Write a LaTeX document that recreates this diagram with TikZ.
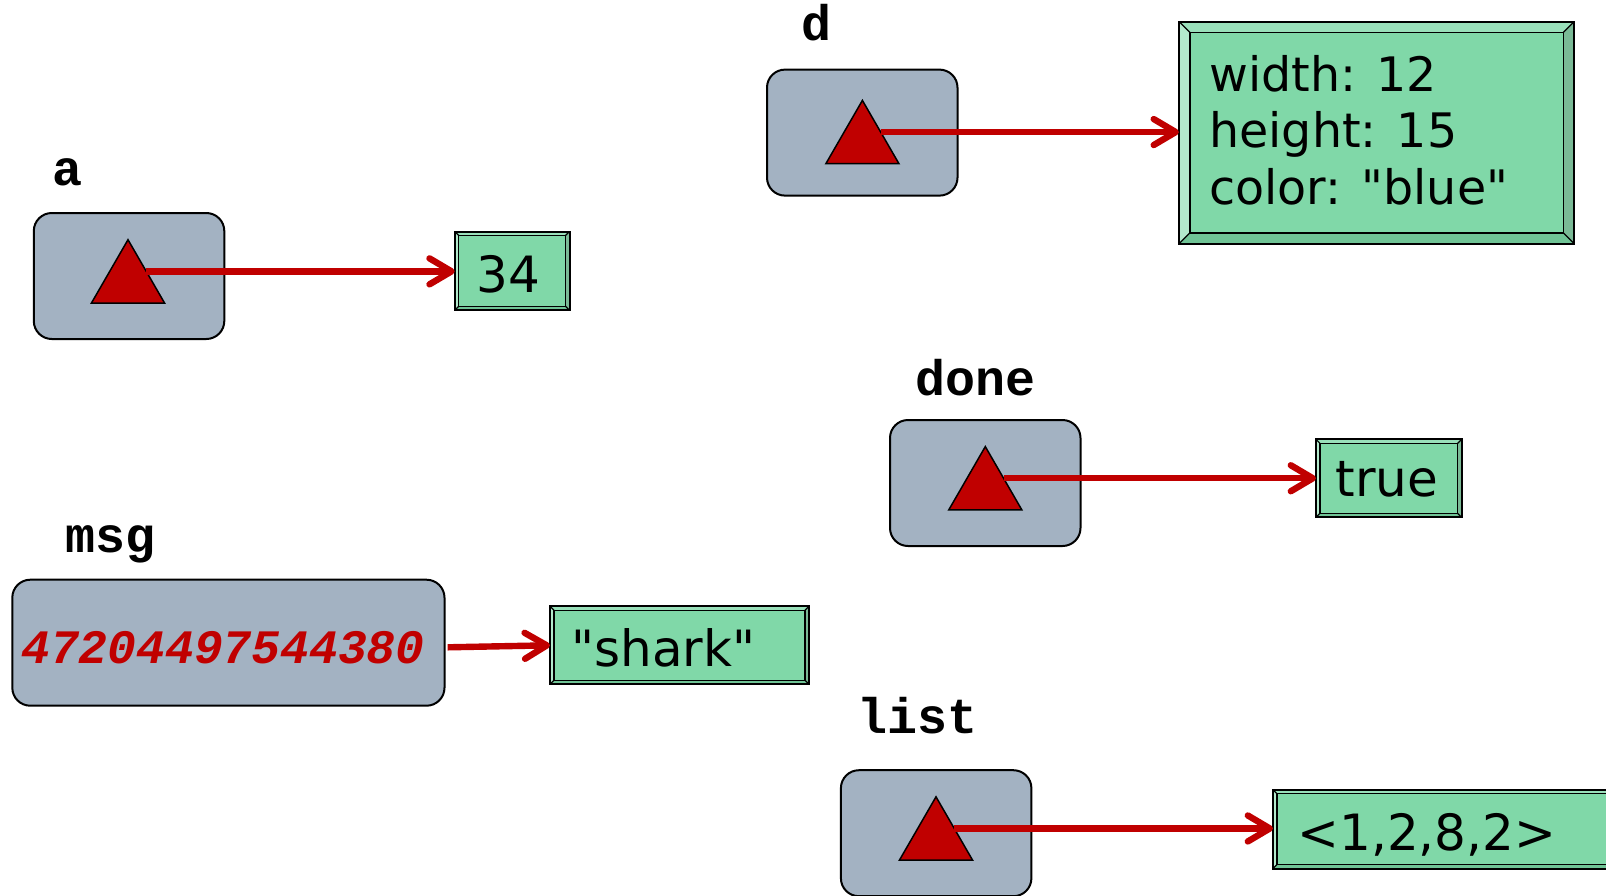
\documentclass[tikz,border=0pt]{standalone}
\usepackage{fontspec}
\usetikzlibrary{shapes.geometric,arrows.meta}
\newfontfamily\valfont{DejaVu Sans}
\newfontfamily\codefont{Liberation Mono}

\definecolor{refgrey}{RGB}{163,178,194}
\definecolor{ptrred}{RGB}{192,0,0}
\definecolor{valgreen}{RGB}{128,216,168}
\definecolor{bevtop}{RGB}{153,224,186}
\definecolor{bevleft}{RGB}{179,233,204}
\definecolor{bevright}{RGB}{122,186,150}
\definecolor{bevbottom}{RGB}{112,196,150}

% bevelled frame around a value node: #1 = node name, #2 = bevel depth in pt
\newcommand\bevelframe[2]{%
  \fill[bevtop] (#1.north west) -- (#1.north east) -- ([shift={(-#2pt,-#2pt)}]#1.north east) -- ([shift={(#2pt,-#2pt)}]#1.north west) -- cycle;
  \fill[bevleft] (#1.north west) -- ([shift={(#2pt,-#2pt)}]#1.north west) -- ([shift={(#2pt,#2pt)}]#1.south west) -- (#1.south west) -- cycle;
  \fill[bevright] (#1.north east) -- (#1.south east) -- ([shift={(-#2pt,#2pt)}]#1.south east) -- ([shift={(-#2pt,-#2pt)}]#1.north east) -- cycle;
  \fill[bevbottom] (#1.south west) -- ([shift={(#2pt,#2pt)}]#1.south west) -- ([shift={(-#2pt,#2pt)}]#1.south east) -- (#1.south east) -- cycle;
  \draw[line width=0.6pt] (#1.north west) -- ([shift={(#2pt,-#2pt)}]#1.north west)
    (#1.north east) -- ([shift={(-#2pt,-#2pt)}]#1.north east)
    (#1.south west) -- ([shift={(#2pt,#2pt)}]#1.south west)
    (#1.south east) -- ([shift={(-#2pt,#2pt)}]#1.south east);
  \draw[line width=0.7pt] ([shift={(#2pt,-#2pt)}]#1.north west) rectangle ([shift={(-#2pt,#2pt)}]#1.south east);
  \draw[line width=1pt] (#1.north west) rectangle (#1.south east);
}

\tikzset{
  refbox/.style={fill=refgrey, draw=black, line width=1pt, rounded corners=9pt,
    minimum width=95.25pt, minimum height=63pt, inner sep=0pt, outer sep=0pt, anchor=north west},
  ptr/.style={regular polygon, regular polygon sides=3, draw=black, line width=0.75pt,
    fill=ptrred, minimum size=42.2pt, inner sep=0pt, outer sep=0pt},
  link/.style={draw=ptrred, line width=3.2pt,
    -{Straight Barb[length=11pt,width=13pt,line cap=round,line join=round]}},
  vname/.style={font=\codefont\bfseries\fontsize{25pt}{30pt}\selectfont, anchor=base, inner sep=0pt},
  valbox/.style={fill=valgreen, inner sep=0pt, outer sep=0pt, anchor=north west},
  valtext/.style={font=\valfont\fontsize{25pt}{30pt}\selectfont, inner sep=0pt},
  dimtext/.style={font=\valfont\fontsize{23.75pt}{28.5pt}\selectfont, inner sep=0pt, anchor=base west},
}

\begin{document}
\begin{tikzpicture}[x=0.5pt, y=-0.5pt]
\useasboundingbox (0,0) rectangle (1606,895);
\clip (0,0) rectangle (1606,895);

% variable names
\node[vname] (na)    at (67.5,185)   {a};
\node[vname] (nd)    at (816,40)     {d};
\node[vname] (ndone) at (975,395)    {done};
\node[vname] (nmsg)  at (111,552.7)  {msg};
\node[vname] (nlist) at (917.5,733.3) {list};

% reference cells
\node[refbox] (ra)    at (33.8,213)   {};
\node[refbox] (rd)    at (767,69.6)   {};
\node[refbox] (rdone) at (890,420)    {};
\node[refbox] (rlist) at (840.9,770.2) {};
\node[refbox, minimum width=216.1pt] (rmsg) at (12.3,579.7) {};

% pointer markers
\node[ptr] (ta)    at (128,281.9)   {};
\node[ptr] (td)    at (862.4,142.6) {};
\node[ptr] (tdone) at (985.3,488.8) {};
\node[ptr] (tlist) at (936,839)     {};

% raw reference value stored in msg
\node[font=\codefont\bfseries\itshape\fontsize{24pt}{28pt}\selectfont, text=ptrred,
      anchor=base, inner sep=0pt] (msgval) at (223,663.7) {47204497544380};

% value objects
\node[valbox, minimum width=57.4pt,   minimum height=39.4pt]  (v34)    at (454.7,231.5) {};
\node[valbox, minimum width=197.65pt, minimum height=111.15pt] (vdim)  at (1178.9,21.5) {};
\node[valbox, minimum width=72.75pt,  minimum height=38.9pt]  (vtrue)  at (1316,439.4) {};
\node[valbox, minimum width=129.5pt,  minimum height=39pt]    (vshark) at (550,606.3) {};
\node[valbox, minimum width=180pt,    minimum height=39.4pt]  (vlist)  at (1273,789.7) {};
\bevelframe{v34}{2}
\bevelframe{vdim}{5.5}
\bevelframe{vtrue}{2}
\bevelframe{vshark}{2}
\bevelframe{vlist}{2}

\node[valtext, anchor=base] (t34)   at (508.3,292.7) {34};
\node[valtext, anchor=base] (ttrue) at (1387,496.7)  {true};
\node[valtext, anchor=base west] (tshark) at (571,666.7) {"shark"};
\node[valtext, anchor=base west] (tlistv) at (1297,850.7) {<1,2,8,2>};
\node[dimtext] (dim1) at (1209,91)    {width: 12};
\node[dimtext] (dim2) at (1209,147.5) {height: 15};
\node[dimtext] (dim3) at (1209,204)   {color: "blue"};

% references
\coordinate (msgout) at (447.6,647.3);
\draw[link] (ta.side 3) -- (ta.side 3 -| v34.west);
\draw[link] (td.side 3) -- (td.side 3 -| vdim.west);
\draw[link] (tdone.side 3) -- (tdone.side 3 -| vtrue.west);
\draw[link] (tlist.side 3) -- (tlist.side 3 -| vlist.west);
\draw[link] (msgout) -- (vshark.west);
\end{tikzpicture}
\end{document}
